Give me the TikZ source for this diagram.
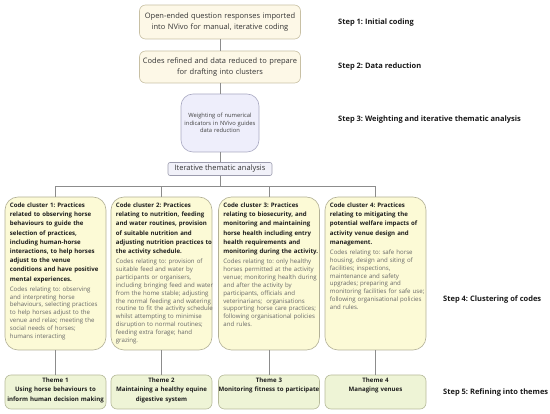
\documentclass[tikz,border=0pt]{standalone}
\usepackage{fontspec}
\setmainfont{Open Sans}
\frenchspacing
\definecolor{boxfill}{HTML}{FDF8E7}
\definecolor{boxline}{HTML}{C8C0A4}
\definecolor{lavfill}{HTML}{EEEEFB}
\definecolor{lavline}{HTML}{A9A9C2}
\definecolor{itfill}{HTML}{F1F1F9}
\definecolor{itline}{HTML}{9C9CAE}
\definecolor{clfill}{HTML}{FCFAD6}
\definecolor{clline}{HTML}{B2B096}
\definecolor{thfill}{HTML}{EEF4D6}
\definecolor{thline}{HTML}{B6BA9A}
\definecolor{conn}{HTML}{8C8C8C}
\definecolor{bodytext}{HTML}{666666}
\definecolor{headtext}{HTML}{1E1E1E}
\tikzset{
  topbox/.style={draw=boxline, fill=boxfill, rounded corners=6pt, line width=0.6pt,
    minimum width=161pt, text width=158pt, align=center, inner sep=0pt,
    font=\fontsize{7.5}{11}\selectfont, text=black!80},
  lavbox/.style={draw=lavline, fill=lavfill, rounded corners=12pt, line width=0.6pt,
    minimum width=78pt, minimum height=58pt, text width=76pt, align=center, inner sep=0pt,
    font=\fontsize{5.8}{7.8}\selectfont, text=black!75},
  itbox/.style={draw=itline, fill=itfill, rounded corners=2pt, line width=0.6pt,
    minimum width=104pt, minimum height=13pt, inner sep=0pt,
    font=\fontsize{7.5}{9}\selectfont, text=black!80},
  cluster/.style={draw=clline, fill=clfill, rounded corners=13pt, line width=0.6pt,
    minimum width=101pt, minimum height=153pt, inner sep=0pt},
  theme/.style={draw=thline, fill=thfill, rounded corners=6pt, line width=0.6pt,
    minimum width=101pt, minimum height=34pt, inner sep=0pt},
  headtxt/.style={anchor=north west, inner sep=0pt, text width=130pt, align=left, text=headtext,
    font=\bfseries\fontsize{6.1}{9.2}\selectfont},
  bodytxt/.style={anchor=north west, inner sep=0pt, text width=130pt, align=left, text=bodytext,
    font=\fontsize{6.1}{7.9}\selectfont},
  themetxt/.style={anchor=north, inner sep=0pt, text width=130pt, align=center, text=headtext,
    font=\bfseries\fontsize{6.1}{9.3}\selectfont},
  steplabel/.style={anchor=west, inner sep=0pt, text=black!90,
    font=\bfseries\fontsize{7.5}{9}\selectfont},
  connector/.style={draw=conn, line width=0.6pt}
}
\begin{document}
\begin{tikzpicture}[x=1pt,y=-1pt]
\useasboundingbox (0,0) rectangle (550,414);

% top boxes
\node[topbox, minimum height=34pt] (b1) at (220,22)
  {Open-ended question responses imported\\into NVivo for manual, iterative coding};
\node[topbox, minimum height=32pt] (b2) at (220,67)
  {Codes refined and data reduced to prepare\\for drafting into clusters};
\node[lavbox] (b3) at (220,123)
  {Weighting of numerical\\indicators in NVivo guides\\data reduction};
\node[itbox] (it) at (220,169) {Iterative thematic analysis};
\coordinate (j) at (220,186);

% clusters
\node[cluster] (c1) at (55.5,273.5) {};
\node[cluster] (c2) at (161.5,273.5) {};
\node[cluster] (c3) at (269,273.5) {};
\node[cluster] (c4) at (375.5,273.5) {};

% themes
\node[theme] (t1) at (55.5,392) {};
\node[theme] (t2) at (161.5,392) {};
\node[theme] (t3) at (269,392) {};
\node[theme] (t4) at (375.5,392) {};

% connectors
\draw[connector] (b1) -- (b2);
\draw[connector] (b2) -- (b3);
\draw[connector] (b3) -- (it);
\draw[connector] (it) -- (j);
\draw[connector] (j) -| (c1);
\draw[connector] (j) -| (c2);
\draw[connector] (j) -| (c3);
\draw[connector] (j) -| (c4);
\draw[connector] (c1) -- (t1);
\draw[connector] (c2) -- (t2);
\draw[connector] (c3) -- (t3);
\draw[connector] (c4) -- (t4);

% cluster texts
\node[headtxt] (h1) at ([xshift=5pt,yshift=-6pt]c1.north west)
  {Code cluster 1: Practices\\related to observing horse\\behaviours to guide the\\selection of practices,\\including human-horse\\interactions, to help horses\\adjust to the venue\\conditions and have positive\\mental experiences.};
\node[bodytxt] (d1) at ([yshift=-3.5pt]h1.south west)
  {Codes relating to: observing\\and interpreting horse\\behaviours, selecting practices\\to help horses adjust to the\\venue and relax; meeting the\\social needs of horses;\\humans interacting};

\node[headtxt] (h2) at ([xshift=5pt,yshift=-6pt]c2.north west)
  {Code cluster 2: Practices\\relating to nutrition, feeding\\and water routines, provision\\of suitable nutrition and\\adjusting nutrition practices to\\the activity schedule.};
\node[bodytxt] (d2) at ([yshift=-3.5pt]h2.south west)
  {Codes relating to: provision of\\suitable feed and water by\\participants or organisers,\\including bringing feed and water\\from the home stable; adjusting\\the normal feeding and watering\\routine to fit the activity schedule\\whilst attempting to minimise\\disruption to normal routines;\\feeding extra forage; hand\\grazing.};

\node[headtxt] (h3) at ([xshift=5pt,yshift=-6pt]c3.north west)
  {Code cluster 3: Practices\\relating to biosecurity, and\\monitoring and maintaining\\horse health including entry\\health requirements and\\monitoring during the activity.};
\node[bodytxt] (d3) at ([yshift=-3.5pt]h3.south west)
  {Codes relating to: only healthy\\horses permitted at the activity\\venue; monitoring health during\\and after the activity by\\participants, officials and\\veterinarians;\ \ organisations\\supporting horse care practices;\\following organisational policies\\and rules.};

\node[headtxt] (h4) at ([xshift=5pt,yshift=-6pt]c4.north west)
  {Code cluster 4: Practices\\relating to mitigating the\\potential welfare impacts of\\activity venue design and\\management.};
\node[bodytxt] (d4) at ([yshift=-3.5pt]h4.south west)
  {Codes relating to: safe horse\\housing, design and siting of\\facilities; inspections,\\maintenance and safety\\upgrades; preparing and\\monitoring facilities for safe use;\\following organisational policies\\and rules.};

% theme texts
\node[themetxt] (tl1) at ([yshift=-3pt]t1.north)
  {Theme 1\\Using horse behaviours to\\inform human decision making};
\node[themetxt] (tl2) at ([yshift=-3pt]t2.north)
  {Theme 2\\Maintaining a healthy equine\\digestive system};
\node[themetxt] (tl3) at ([yshift=-3pt]t3.north)
  {Theme 3\\Monitoring fitness to participate};
\node[themetxt] (tl4) at ([yshift=-3pt]t4.north)
  {Theme 4\\Managing venues};

% step labels
\node[steplabel] (s1) at (338,23) {Step 1: Initial coding};
\node[steplabel] (s2) at (338,67) {Step 2: Data reduction};
\node[steplabel] (s3) at (338,120) {Step 3: Weighting and iterative thematic analysis};
\node[steplabel] (s4) at (443,300) {Step 4: Clustering of codes};
\node[steplabel] (s5) at (443,393) {Step 5: Refining into themes};
\end{tikzpicture}
\end{document}
